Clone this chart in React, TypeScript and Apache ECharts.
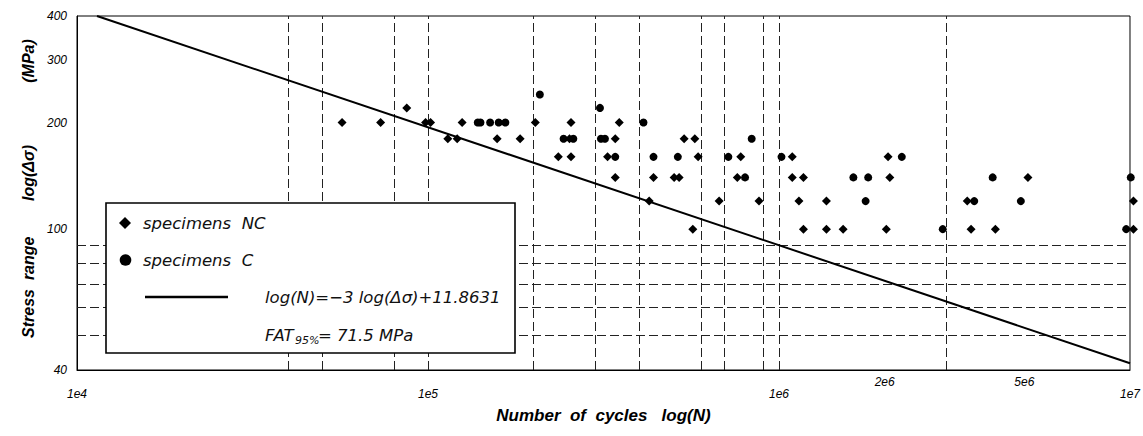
import React, { useEffect, useRef } from "react";
import * as echarts from "echarts";

// ---- data ----
const stressLevels = [240, 220, 200, 180, 160, 140, 120, 100];

const ncCyclesByLevel: number[][] = [
  [],
  [87000],
  [56900, 73300, 98400, 101700, 125100, 202200, 255500, 350700],
  [113900, 121100, 157400, 183000, 253000, 341600, 536700, 575700],
  [235100, 255500, 324800, 588300, 778000, 1091000, 2045000],
  [341600, 439000, 502700, 519400, 760900, 1091000, 1174000, 2069000, 5120000],
  [426800, 675100, 877100, 1140000, 1365000, 3439000, 10230000],
  [568200, 1174000, 1365000, 1523000, 2022000, 3525000, 4135000, 10230000],
];

const cCyclesByLevel: number[][] = [
  [208300],
  [309000],
  [138600, 141100, 150300, 159000, 166100, 411100],
  [243400, 259400, 311000, 319300, 836000],
  [341600, 439000, 515000, 717400, 1016500, 2238000],
  [800300, 1629000, 1795000, 4062000, 10050000],
  [1765000, 3600000, 4887000],
  [2928000, 9754000],
];

// S-N curve log(N) = -3 log(Δσ) + 11.8631, end points
const curveCycles = [11400, 10000000];
const curveStress = [400, 41.79];

// reference grid lines
const vLineCycles = [40000, 50000, 80000, 100000, 200000, 300000, 400000, 600000, 700000, 900000, 1000000, 3000000];
const hLineStress = [90, 80, 70, 60, 50];

// ticks
const xTickValues = [10000, 100000, 1000000, 10000000];
const xTickLabels = ["1e4", "1e5", "1e6", "1e7"];
const xExtraTickValues = [2000000, 5000000];
const xExtraTickLabels = ["2e6", "5e6"];
const yTickValues = [40, 100, 200, 300, 400];
const yTickLabels = ["40", "100", "200", "300", "400"];

const LEG_FONT = "DejaVu Sans";
const AX_FONT = "Liberation Sans";

function pairs(levels: number[], byLevel: number[][]) {
  const out: number[][] = [];
  byLevel.forEach((arr, i) => arr.forEach((n) => out.push([n, levels[i]])));
  return out;
}

const sp = (n: number) => "\u00a0".repeat(n);

export default function App() {
  const ref = useRef<HTMLDivElement>(null);
  useEffect(() => {
    if (!ref.current) return;
    const chart = echarts.init(ref.current, undefined, { renderer: "svg" });
    const tickStyle = {
      fontFamily: AX_FONT,
      fontStyle: "italic" as const,
      fontSize: 12,
      color: "#000",
    };
    const dash = { type: [9, 4] as any, color: "#222", width: 1 };
    const legText = {
      fontFamily: LEG_FONT,
      fontStyle: "italic",
      fontSize: 16.5,
      fill: "#111",
      verticalAlign: "middle",
      align: "left",
    };
    chart.setOption({
      animation: false,
      backgroundColor: "#fff",
      grid: {
        left: 77,
        right: 11.5,
        top: 16,
        bottom: 66,
        show: true,
        borderColor: "#000",
        borderWidth: 1,
        backgroundColor: "transparent",
      },
      xAxis: [
        {
          type: "log",
          logBase: 10,
          min: 10000,
          max: 10000000,
          position: "bottom",
          axisLine: { show: true, lineStyle: { color: "#000", width: 1 } },
          axisTick: { show: false },
          splitLine: { show: false },
          axisLabel: {
            ...tickStyle,
            margin: 18,
            customValues: xTickValues,
            formatter: (v: number) => {
              const i = xTickValues.findIndex((t) => Math.abs(t - v) / t < 1e-6);
              return i >= 0 ? xTickLabels[i] : "";
            },
          },
          name: "Number" + sp(2) + "of" + sp(2) + "cycles" + sp(3) + "log(N)",
          nameLocation: "middle",
          nameGap: 37,
          nameTextStyle: {
            fontFamily: AX_FONT,
            fontStyle: "italic",
            fontWeight: "bold",
            fontSize: 17,
            color: "#000",
          },
        },
        {
          type: "log",
          logBase: 10,
          min: 10000,
          max: 10000000,
          position: "bottom",
          axisLine: { show: false },
          axisTick: { show: false },
          splitLine: { show: false },
          axisLabel: {
            ...tickStyle,
            margin: 6,
            customValues: xExtraTickValues,
            formatter: (v: number) => {
              const i = xExtraTickValues.findIndex((t) => Math.abs(t - v) / t < 1e-6);
              return i >= 0 ? xExtraTickLabels[i] : "";
            },
          },
        },
      ],
      yAxis: {
        type: "log",
        logBase: 10,
        min: 40,
        max: 400,
        axisLine: { show: true, lineStyle: { color: "#000", width: 1 } },
        axisTick: { show: false },
        splitLine: { show: false },
        axisLabel: {
          ...tickStyle,
          margin: 10,
          customValues: yTickValues,
          formatter: (v: number) => {
            const i = yTickValues.findIndex((t) => Math.abs(t - v) / t < 1e-6);
            return i >= 0 ? yTickLabels[i] : "";
          },
        },
        name: sp(2) + "Stress" + sp(2) + "range" + sp(8) + "log(\u0394\u03c3)" + sp(14) + "(MPa)",
        nameLocation: "middle",
        nameGap: 38,
        nameTextStyle: {
          fontFamily: AX_FONT,
          fontStyle: "italic",
          fontWeight: "bold",
          fontSize: 16,
          color: "#000",
        },
      },
      series: [
        {
          name: "log(N)=\u22123 log(\u0394\u03c3)+11.8631",
          type: "line",
          xAxisIndex: 0,
          data: curveCycles.map((n, i) => [n, curveStress[i]]),
          symbol: "none",
          lineStyle: { color: "#000", width: 2 },
          z: 3,
          markLine: {
            silent: true,
            symbol: "none",
            label: { show: false },
            z: 1,
            lineStyle: dash,
            data: [
              ...vLineCycles.map((n) => ({ xAxis: n })),
              ...hLineStress.map((s) => ({ yAxis: s })),
            ],
          },
        },
        {
          name: "specimens NC",
          type: "scatter",
          xAxisIndex: 0,
          symbol: "diamond",
          symbolSize: 9,
          clip: false,
          itemStyle: { color: "#000", opacity: 1 },
          data: pairs(stressLevels, ncCyclesByLevel),
          z: 4,
        },
        {
          name: "specimens C",
          type: "scatter",
          xAxisIndex: 0,
          symbol: "circle",
          symbolSize: 8,
          clip: false,
          itemStyle: { color: "#000", opacity: 1 },
          data: pairs(stressLevels, cCyclesByLevel),
          z: 4,
        },
      ],
      graphic: [
        {
          type: "group",
          z: 100,
          children: [
            {
              type: "rect",
              z: 100,
              shape: { x: 106, y: 203, width: 409, height: 150 },
              style: { fill: "#fff", stroke: "#000", lineWidth: 1.6 },
            },
            {
              type: "polygon",
              z: 101,
              shape: { points: [[125, 217], [131, 223], [125, 229], [119, 223]] },
              style: { fill: "#000" },
            },
            {
              type: "text",
              z: 101,
              x: 143,
              y: 223,
              style: { ...legText, text: "specimens" + sp(2) + "NC" },
            },
            {
              type: "circle",
              z: 101,
              shape: { cx: 125.5, cy: 260, r: 5.8 },
              style: { fill: "#000" },
            },
            {
              type: "text",
              z: 101,
              x: 143,
              y: 260,
              style: { ...legText, text: "specimens" + sp(2) + "C" },
            },
            {
              type: "line",
              z: 101,
              shape: { x1: 145, y1: 297, x2: 228, y2: 297 },
              style: { stroke: "#000", lineWidth: 2.5 },
            },
            {
              type: "text",
              z: 101,
              x: 265,
              y: 297,
              style: { ...legText, text: "log(N)=\u22123 log(\u0394\u03c3)+11.8631" },
            },
            {
              type: "text",
              z: 101,
              x: 265,
              y: 335,
              style: { ...legText, text: "FAT" },
            },
            {
              type: "text",
              z: 101,
              x: 295,
              y: 340,
              style: { ...legText, fontSize: 11, text: "95%" },
            },
            {
              type: "text",
              z: 101,
              x: 318,
              y: 335,
              style: { ...legText, text: "= 71.5 MPa" },
            },
          ],
        },
      ],
    });
    return () => chart.dispose();
  }, []);
  return (
    <div
      ref={ref}
      style={{ position: "fixed", left: 0, top: 0, width: 1143, height: 436, background: "#fff" }}
    />
  );
}
